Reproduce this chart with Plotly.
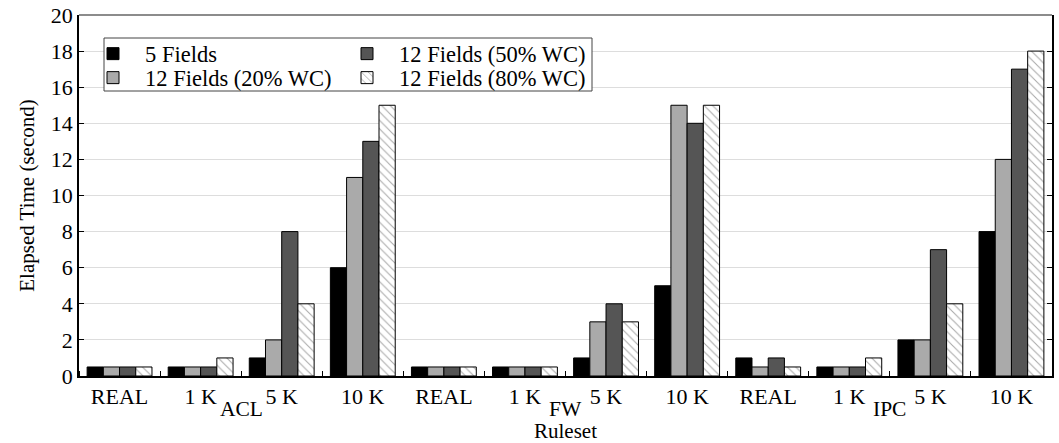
import plotly.graph_objects as go

# Rule set sizes within each rule family
sizes = ["REAL", "1 K", "5 K", "10 K"]
families = ["ACL", "FW", "IPC"]
tick_labels = [s for _ in families for s in sizes]

# Elapsed time (seconds), ordered ACL(REAL,1K,5K,10K), FW(...), IPC(...)
fields5 = [0.5, 0.5, 1, 6, 0.5, 0.5, 1, 5, 1, 0.5, 2, 8]
fields12_wc20 = [0.5, 0.5, 2, 11, 0.5, 0.5, 3, 15, 0.5, 0.5, 2, 12]
fields12_wc50 = [0.5, 0.5, 8, 13, 0.5, 0.5, 4, 14, 1, 0.5, 7, 17]
fields12_wc80 = [0.5, 1, 4, 15, 0.5, 0.5, 3, 15, 0.5, 1, 4, 18]

x = list(range(len(tick_labels)))
FONT = "Liberation Serif"

W, H = 1059, 443
L, R, T, B = 79, 7, 15, 67
pw = W - L - R
ph = H - T - B

def px_x(p):
    return (p - L) / pw

def px_y(p):
    return 1 - (p - T) / ph

fig = go.Figure()
line = dict(color="black", width=1)
fig.add_bar(x=x, y=fields5, name="5 Fields",
            marker=dict(color="black", line=line), legend="legend")
fig.add_bar(x=x, y=fields12_wc20, name="12 Fields (20% WC)",
            marker=dict(color="#aaaaaa", line=line), legend="legend2")
fig.add_bar(x=x, y=fields12_wc50, name="12 Fields (50% WC)",
            marker=dict(color="#555555", line=line), legend="legend3")
fig.add_bar(x=x, y=fields12_wc80, name="12 Fields (80% WC)",
            marker=dict(color="white", line=line,
                        pattern=dict(shape="\\", fgcolor="#555555", bgcolor="white",
                                     size=6, solidity=0.18)),
            legend="legend4")

def legend_at(px, py):
    return dict(
        x=px_x(px), y=px_y(py), xanchor="left", yanchor="middle",
        bgcolor="rgba(0,0,0,0)", borderwidth=0, itemwidth=54,
        font=dict(family=FONT, size=22.5, color="black"),
        itemclick=False, itemdoubleclick=False, visible=True,
    )

fig.update_layout(
    width=W, height=H,
    margin=dict(l=L, r=R, t=T, b=B, autoexpand=False),
    paper_bgcolor="white", plot_bgcolor="white",
    showlegend=True,
    barmode="group", bargap=0.2, bargroupgap=0,
    font=dict(family=FONT, size=22, color="black"),
    legend=legend_at(81, 54),
    legend2=legend_at(81, 78),
    legend3=legend_at(335, 54),
    legend4=legend_at(335, 78),
    xaxis=dict(
        range=[-0.5, len(x) - 0.5], automargin=False,
        tickmode="array", tickvals=x, ticktext=tick_labels,
        ticks="", showgrid=False, zeroline=False,
        showline=True, linecolor="black", linewidth=1.5, mirror=False,
        tickfont=dict(family=FONT, size=22),
        minor=dict(tickmode="linear", tick0=0.5, dtick=1, ticks="inside",
                   ticklen=5, tickcolor="black", showgrid=False),
    ),
    yaxis=dict(
        range=[0, 20], dtick=2, tick0=0, automargin=False,
        showgrid=True, gridcolor="#dddddd", gridwidth=1, zeroline=False,
        showline=True, linecolor="black", linewidth=1.5, mirror="ticks",
        ticks="inside", ticklen=5, tickcolor="black",
        tickfont=dict(family=FONT, size=22),
        title=dict(text="Elapsed Time (second)", font=dict(family=FONT, size=21), standoff=10),
    ),
    shapes=[
        # top frame edge
        dict(type="line", xref="paper", yref="paper", x0=0, x1=1, y0=1, y1=1,
             line=dict(color="#666666", width=1.5), layer="above"),
        # legend frame
        dict(type="rect", xref="paper", yref="paper",
             x0=px_x(104), x1=px_x(592), y0=px_y(91), y1=px_y(38),
             fillcolor="white", line=dict(color="#444444", width=1), layer="above"),
    ],
)

# Rule family labels beneath each group of sizes
for i, fam in enumerate(families):
    fig.add_annotation(x=i * len(sizes) + 1.5, y=0, xref="x", yref="paper",
                       text=fam, showarrow=False, yanchor="middle",
                       yshift=-(409 - (H - B)), font=dict(family=FONT, size=21.5))

# x-axis title
fig.add_annotation(x=0.5, y=0, xref="paper", yref="paper", text="Ruleset",
                   showarrow=False, yanchor="middle", yshift=-(430.5 - (H - B)),
                   font=dict(family=FONT, size=21))

fig.write_html("out.html")
